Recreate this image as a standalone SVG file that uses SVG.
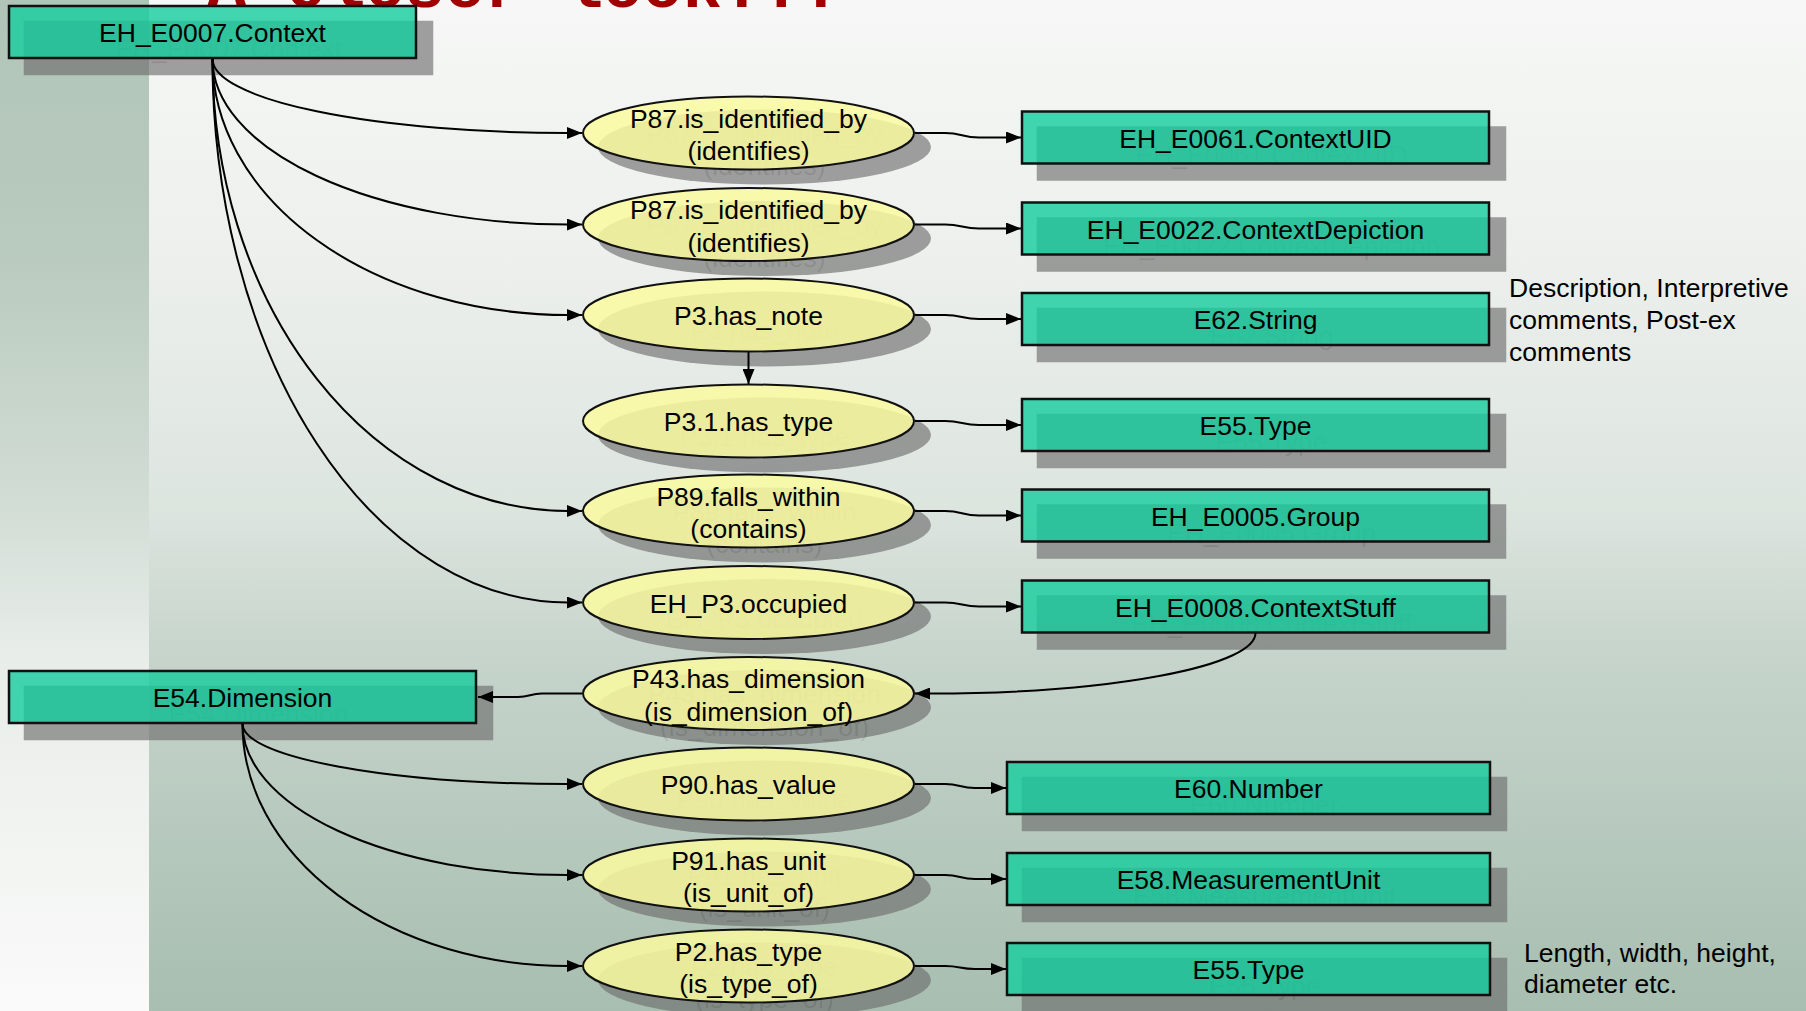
<svg xmlns="http://www.w3.org/2000/svg" width="1806" height="1011" viewBox="0 0 1806 1011">
  <defs>
    <linearGradient id="bgMain" x1="0" y1="0" x2="0" y2="1">
      <stop offset="0" stop-color="#f6f7f6"/>
      <stop offset="0.25" stop-color="#edf0ed"/>
      <stop offset="0.5" stop-color="#dde5df"/>
      <stop offset="0.65" stop-color="#c6d4cb"/>
      <stop offset="1" stop-color="#a7beb0"/>
    </linearGradient>
    <linearGradient id="bgStrip" x1="0" y1="0" x2="0" y2="1">
      <stop offset="0" stop-color="#b0c5b8"/>
      <stop offset="0.25" stop-color="#b9cabe"/>
      <stop offset="0.5" stop-color="#d2ddd5"/>
      <stop offset="0.65" stop-color="#e8ede9"/>
      <stop offset="1" stop-color="#fafafa"/>
    </linearGradient>
    <marker id="arrow" markerUnits="userSpaceOnUse" viewBox="0 0 15 12" markerWidth="15" markerHeight="12" refX="15" refY="6" orient="auto">
      <path d="M0,0 L15,6 L0,12 z" fill="#000"/>
    </marker>
    <style>
      .shadow { fill: #6e6e6e; fill-opacity: 0.65; }
      .ghost { font-family: "Liberation Sans", Arial, sans-serif; font-size: 26.5px; text-anchor: middle; fill: #000; fill-opacity: 0.1; }
      .box { fill: rgb(20,205,158); fill-opacity: 0.8; stroke: #111; stroke-width: 2.5; }
      .ell { fill: rgb(250,250,160); fill-opacity: 0.85; stroke: #111; stroke-width: 2; }
      .lbl { font-family: "Liberation Sans", Arial, sans-serif; font-size: 26.5px; text-anchor: middle; fill: #000; }
      .note { font-family: "Liberation Sans", Arial, sans-serif; font-size: 26.5px; fill: #000; }
      .edge { fill: none; stroke: #000; stroke-width: 2; marker-end: url(#arrow); }
      .title { font-family: "Liberation Mono", "Courier New", monospace; font-weight: bold; font-size: 66px; fill: #a00000; }
    </style>
  </defs>

  <!-- slide background -->
  <g id="background">
    <rect x="0" y="0" width="1806" height="1011" fill="url(#bgMain)"/>
    <rect x="0" y="0" width="149" height="1011" fill="url(#bgStrip)"/>
  </g>

  <text class="title" x="207" y="7">A closer look...</text>

  <g id="nodes">
    <!-- entity boxes -->
    <g id="n-context">
      <rect class="shadow" x="23.75" y="20.75" width="409.5" height="54.5"/>
      <text class="ghost" x="228.5" y="58">EH_E0007.Context</text>
      <rect class="box" x="9" y="6" width="407" height="52"/>
      <text class="lbl" x="212.5" y="42">EH_E0007.Context</text>
    </g>
    <g id="n-contextuid">
      <rect class="shadow" x="1036.75" y="126.25" width="469.5" height="54.5"/>
      <text class="ghost" x="1271.5" y="163.5">EH_E0061.ContextUID</text>
      <rect class="box" x="1022" y="111.5" width="467" height="52"/>
      <text class="lbl" x="1255.5" y="147.5">EH_E0061.ContextUID</text>
    </g>
    <g id="n-contextdepiction">
      <rect class="shadow" x="1036.75" y="217.25" width="469.5" height="54.5"/>
      <text class="ghost" x="1271.5" y="254.5">EH_E0022.ContextDepiction</text>
      <rect class="box" x="1022" y="202.5" width="467" height="52"/>
      <text class="lbl" x="1255.5" y="238.5">EH_E0022.ContextDepiction</text>
    </g>
    <g id="n-string">
      <rect class="shadow" x="1036.75" y="307.75" width="469.5" height="54.5"/>
      <text class="ghost" x="1271.5" y="345">E62.String</text>
      <rect class="box" x="1022" y="293" width="467" height="52"/>
      <text class="lbl" x="1255.5" y="329">E62.String</text>
    </g>
    <g id="n-type">
      <rect class="shadow" x="1036.75" y="413.75" width="469.5" height="54.5"/>
      <text class="ghost" x="1271.5" y="451">E55.Type</text>
      <rect class="box" x="1022" y="399" width="467" height="52"/>
      <text class="lbl" x="1255.5" y="435">E55.Type</text>
    </g>
    <g id="n-group">
      <rect class="shadow" x="1036.75" y="504.25" width="469.5" height="54.5"/>
      <text class="ghost" x="1271.5" y="541.5">EH_E0005.Group</text>
      <rect class="box" x="1022" y="489.5" width="467" height="52"/>
      <text class="lbl" x="1255.5" y="525.5">EH_E0005.Group</text>
    </g>
    <g id="n-contextstuff">
      <rect class="shadow" x="1036.75" y="595.25" width="469.5" height="54.5"/>
      <text class="ghost" x="1271.5" y="632.5">EH_E0008.ContextStuff</text>
      <rect class="box" x="1022" y="580.5" width="467" height="52"/>
      <text class="lbl" x="1255.5" y="616.5">EH_E0008.ContextStuff</text>
    </g>
    <g id="n-dimension">
      <rect class="shadow" x="23.75" y="685.75" width="469.5" height="54.5"/>
      <text class="ghost" x="258.5" y="723">E54.Dimension</text>
      <rect class="box" x="9" y="671" width="467" height="52"/>
      <text class="lbl" x="242.5" y="707">E54.Dimension</text>
    </g>
    <g id="n-number">
      <rect class="shadow" x="1021.75" y="776.75" width="485.5" height="54.5"/>
      <text class="ghost" x="1264.5" y="814">E60.Number</text>
      <rect class="box" x="1007" y="762" width="483" height="52"/>
      <text class="lbl" x="1248.5" y="798">E60.Number</text>
    </g>
    <g id="n-unit">
      <rect class="shadow" x="1021.75" y="867.75" width="485.5" height="54.5"/>
      <text class="ghost" x="1264.5" y="905">E58.MeasurementUnit</text>
      <rect class="box" x="1007" y="853" width="483" height="52"/>
      <text class="lbl" x="1248.5" y="889">E58.MeasurementUnit</text>
    </g>
    <g id="n-type2">
      <rect class="shadow" x="1021.75" y="957.75" width="485.5" height="54.5"/>
      <text class="ghost" x="1264.5" y="995">E55.Type</text>
      <rect class="box" x="1007" y="943" width="483" height="52"/>
      <text class="lbl" x="1248.5" y="979">E55.Type</text>
    </g>

    <!-- property ellipses -->
    <g id="p-identified1">
      <ellipse class="shadow" cx="764.5" cy="147" rx="166.5" ry="37.5"/>
      <text class="ghost" x="764.5" y="142.5">P87.is_identified_by</text>
      <text class="ghost" x="764.5" y="175">(identifies)</text>
      <ellipse class="ell" cx="748.5" cy="133" rx="165.5" ry="36.5"/>
      <text class="lbl" x="748.5" y="127.5">P87.is_identified_by</text>
      <text class="lbl" x="748.5" y="160">(identifies)</text>
    </g>
    <g id="p-identified2">
      <ellipse class="shadow" cx="764.5" cy="238.5" rx="166.5" ry="37.5"/>
      <text class="ghost" x="764.5" y="234">P87.is_identified_by</text>
      <text class="ghost" x="764.5" y="266.5">(identifies)</text>
      <ellipse class="ell" cx="748.5" cy="224.5" rx="165.5" ry="36.5"/>
      <text class="lbl" x="748.5" y="219">P87.is_identified_by</text>
      <text class="lbl" x="748.5" y="251.5">(identifies)</text>
    </g>
    <g id="p-note">
      <ellipse class="shadow" cx="764.5" cy="329" rx="166.5" ry="37.5"/>
      <text class="ghost" x="764.5" y="340">P3.has_note</text>
      <ellipse class="ell" cx="748.5" cy="315" rx="165.5" ry="36.5"/>
      <text class="lbl" x="748.5" y="325">P3.has_note</text>
    </g>
    <g id="p-notetype">
      <ellipse class="shadow" cx="764.5" cy="435" rx="166.5" ry="37.5"/>
      <text class="ghost" x="764.5" y="446">P3.1.has_type</text>
      <ellipse class="ell" cx="748.5" cy="421" rx="165.5" ry="36.5"/>
      <text class="lbl" x="748.5" y="431">P3.1.has_type</text>
    </g>
    <g id="p-falls">
      <ellipse class="shadow" cx="764.5" cy="525" rx="166.5" ry="37.5"/>
      <text class="ghost" x="764.5" y="520.5">P89.falls_within</text>
      <text class="ghost" x="764.5" y="553">(contains)</text>
      <ellipse class="ell" cx="748.5" cy="511" rx="165.5" ry="36.5"/>
      <text class="lbl" x="748.5" y="505.5">P89.falls_within</text>
      <text class="lbl" x="748.5" y="538">(contains)</text>
    </g>
    <g id="p-occupied">
      <ellipse class="shadow" cx="764.5" cy="616.5" rx="166.5" ry="37.5"/>
      <text class="ghost" x="764.5" y="627.5">EH_P3.occupied</text>
      <ellipse class="ell" cx="748.5" cy="602.5" rx="165.5" ry="36.5"/>
      <text class="lbl" x="748.5" y="612.5">EH_P3.occupied</text>
    </g>
    <g id="p-dimension">
      <ellipse class="shadow" cx="764.5" cy="707.5" rx="166.5" ry="37.5"/>
      <text class="ghost" x="764.5" y="703">P43.has_dimension</text>
      <text class="ghost" x="764.5" y="735.5">(is_dimension_of)</text>
      <ellipse class="ell" cx="748.5" cy="693.5" rx="165.5" ry="36.5"/>
      <text class="lbl" x="748.5" y="688">P43.has_dimension</text>
      <text class="lbl" x="748.5" y="720.5">(is_dimension_of)</text>
    </g>
    <g id="p-value">
      <ellipse class="shadow" cx="764.5" cy="798" rx="166.5" ry="37.5"/>
      <text class="ghost" x="764.5" y="809">P90.has_value</text>
      <ellipse class="ell" cx="748.5" cy="784" rx="165.5" ry="36.5"/>
      <text class="lbl" x="748.5" y="794">P90.has_value</text>
    </g>
    <g id="p-unit">
      <ellipse class="shadow" cx="764.5" cy="889" rx="166.5" ry="37.5"/>
      <text class="ghost" x="764.5" y="884.5">P91.has_unit</text>
      <text class="ghost" x="764.5" y="917">(is_unit_of)</text>
      <ellipse class="ell" cx="748.5" cy="875" rx="165.5" ry="36.5"/>
      <text class="lbl" x="748.5" y="869.5">P91.has_unit</text>
      <text class="lbl" x="748.5" y="902">(is_unit_of)</text>
    </g>
    <g id="p-type">
      <ellipse class="shadow" cx="764.5" cy="980" rx="166.5" ry="37.5"/>
      <text class="ghost" x="764.5" y="975.5">P2.has_type</text>
      <text class="ghost" x="764.5" y="1008">(is_type_of)</text>
      <ellipse class="ell" cx="748.5" cy="966" rx="165.5" ry="36.5"/>
      <text class="lbl" x="748.5" y="960.5">P2.has_type</text>
      <text class="lbl" x="748.5" y="993">(is_type_of)</text>
    </g>
  </g>

  <g id="connectors">
    <!-- from EH_E0007.Context to its properties -->
    <path class="edge" d="M212.5,59 A355.5,74 0 0 0 568,133 L582,133"/>
    <path class="edge" d="M212.5,59 A355.5,165.5 0 0 0 568,224.5 L582,224.5"/>
    <path class="edge" d="M212.5,59 A355.5,256 0 0 0 568,315 L582,315"/>
    <path class="edge" d="M212.5,59 A355.5,452 0 0 0 568,511 L582,511"/>
    <path class="edge" d="M212.5,59 A355.5,543.5 0 0 0 568,602.5 L582,602.5"/>
    <!-- note to note type -->
    <path class="edge" d="M748.5,351.5 L748.5,384"/>
    <!-- properties to range entities -->
    <path class="edge" d="M915,133 L945,133 C962,133 962,137.5 979,137.5 L1021,137.5"/>
    <path class="edge" d="M915,224.5 L945,224.5 C962,224.5 962,228.5 979,228.5 L1021,228.5"/>
    <path class="edge" d="M915,315 L945,315 C962,315 962,319 979,319 L1021,319"/>
    <path class="edge" d="M915,421 L945,421 C962,421 962,425 979,425 L1021,425"/>
    <path class="edge" d="M915,511 L945,511 C962,511 962,515.5 979,515.5 L1021,515.5"/>
    <path class="edge" d="M915,602.5 L945,602.5 C962,602.5 962,606.5 979,606.5 L1021,606.5"/>
    <!-- context stuff to dimension property -->
    <path class="edge" d="M1255.5,633 A324.5,60.5 0 0 1 931,693.5 L915,693.5"/>
    <path class="edge" d="M582,693.5 L542,693.5 C530,693.5 530,697 518,697 L478,697"/>
    <!-- from E54.Dimension -->
    <path class="edge" d="M242.5,724 A325.5,60 0 0 0 568,784 L582,784"/>
    <path class="edge" d="M242.5,724 A325.5,151 0 0 0 568,875 L582,875"/>
    <path class="edge" d="M242.5,724 A325.5,242 0 0 0 568,966 L582,966"/>
    <path class="edge" d="M915,784 L945,784 C960,784 960,788 975,788 L1006,788"/>
    <path class="edge" d="M915,875 L945,875 C960,875 960,879 975,879 L1006,879"/>
    <path class="edge" d="M915,966 L945,966 C960,966 960,969 975,969 L1006,969"/>
  </g>

  <g id="notes">
    <text class="note" x="1509" y="297">Description, Interpretive</text>
    <text class="note" x="1509" y="329">comments, Post-ex</text>
    <text class="note" x="1509" y="361">comments</text>
    <text class="note" x="1524" y="962">Length, width, height,</text>
    <text class="note" x="1524" y="993">diameter etc.</text>
  </g>
</svg>
